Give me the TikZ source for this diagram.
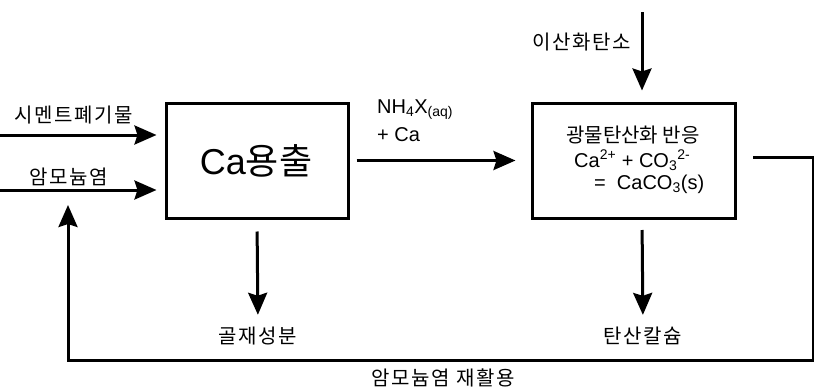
\documentclass[tikz,border=0pt]{standalone}
\usepackage{fontspec}
\setmainfont{Liberation Sans}
\newfontfamily\kr{Noto Sans CJK KR}
\newfontfamily\krs{Noto Sans CJK KR}[LetterSpace=8]
\usetikzlibrary{arrows.meta}
\tikzset{
  boxnode/.style={draw, line width=3pt, inner sep=0pt},
  conn/.style={line width=3pt, -{Stealth[length=22pt,width=19pt,inset=3pt]}},
  krlab/.style={inner sep=0pt, font=\krs\fontsize{20}{22}\selectfont},
  krin/.style={inner sep=0pt, font=\kr\fontsize{20}{22}\selectfont},
  latlab/.style={inner sep=0pt, font=\fontsize{20}{22}\selectfont},
}
\begin{document}
\begin{tikzpicture}[x=1pt,y=-1pt]
\useasboundingbox (0,0) rectangle (814,391);
% boxes
\node[boxnode, minimum width=182pt, minimum height=115pt] (b1) at (257,160.5) {};
\node[inner sep=0pt] (b1t) at (256,161) {\fontsize{36}{40}\selectfont Ca{\kr 용출}};
\node[boxnode, minimum width=203pt, minimum height=115pt] (b2) at (633.5,160.5) {};
\node[krin] (t1) at (633,135) {광물탄산화 반응};
\node[latlab, anchor=west] (t2) at (574,160) {Ca\textsuperscript{2+} + CO\textsubscript{3}\textsuperscript{2-}};
\node[latlab, anchor=west] (t3) at (594,184) {=\ \ CaCO\textsubscript{3}(s)};
% inputs on the left
\coordinate (in1) at (0,135);
\coordinate (in2) at (0,190);
\node[krlab] (l1) at (74,115) {시멘트폐기물};
\node[krlab] (l2) at (69,177) {암모늄염};
\draw[conn, shorten >=8pt] (in1) -- (in1 -| b1.west);
\draw[conn, shorten >=8pt] (in2) -- (in2 -| b1.west);
% b1 -> b2
\draw[conn, shorten <=7pt, shorten >=15pt] (b1.east) -- (b2.west);
\node[latlab, anchor=west] (nh) at (377,110) {NH\textsubscript{4}X\textsubscript{(aq)}};
\node[latlab, anchor=west] (ca) at (377,135) {+ Ca};
% CO2
\coordinate (co) at (642,12);
\draw[conn, shorten >=11pt] (co) -- (co |- b2.north);
\node[krlab] (l3) at (582,42) {이산화탄소};
% outputs
\node[krlab] (o1) at (258,336) {골재성분};
\node[krlab] (o2) at (643,336) {탄산칼슘};
\draw[conn, shorten <=12pt, shorten >=12pt] (b1.south) -- (o1.north);
\coordinate (b2s) at (642,218);
\draw[conn, shorten <=12pt, shorten >=12pt] (b2s) -- (o2.north);
% recycle loop
\coordinate (r0) at (753,157);
\coordinate (r1) at (813,157);
\coordinate (r2) at (813,360);
\coordinate (r3) at (68,360);
\coordinate (r4) at (68,205);
\draw[conn] (r0) -- (r1) -- (r2) -- (r3) -- (r4);
\node[krlab] (l4) at (443,378) {암모늄염 재활용};
\end{tikzpicture}
\end{document}
